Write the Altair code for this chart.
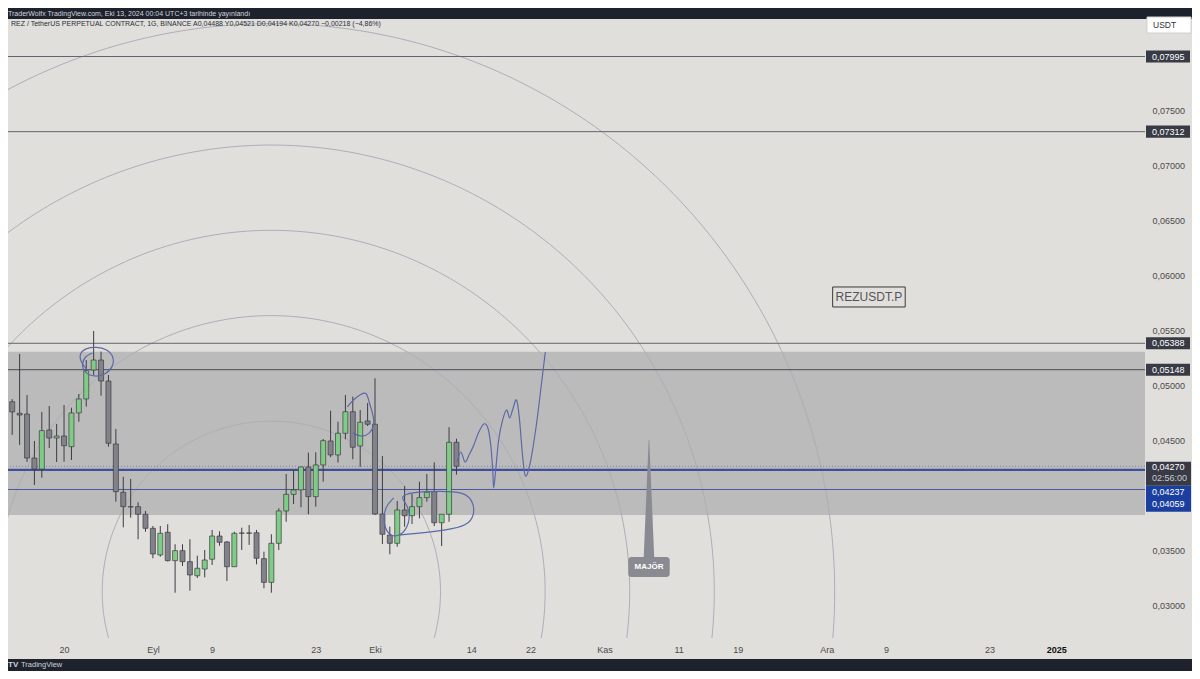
import altair as alt
import numpy as np
import pandas as pd

# ---------------- daily candles REZ/USDT.P ----------------
candle_start = "2024-08-13"
opens = [0.04857, 0.04752, 0.04745, 0.04345, 0.04245, 0.04600, 0.04527, 0.04545, 0.04448, 0.04755,
         0.04882, 0.05145, 0.05236, 0.05045, 0.04473, 0.04034, 0.03903, 0.03903, 0.03834, 0.03706,
         0.03464, 0.03670, 0.03412, 0.03503, 0.03403, 0.03275, 0.03336, 0.03425, 0.03636, 0.03582,
         0.03357, 0.03661, 0.03664, 0.03666, 0.03430, 0.03215, 0.03570, 0.03864, 0.04015, 0.04055,
         0.04264, 0.03994, 0.04282, 0.04500, 0.04373, 0.04570, 0.04766, 0.04455, 0.04682, 0.04652,
         0.03836, 0.03645, 0.03570, 0.03873, 0.03821, 0.03903, 0.03985, 0.04039, 0.03757, 0.03834,
         0.04488]
highs = [0.04880, 0.05291, 0.04918, 0.04500, 0.04764, 0.04818, 0.04655, 0.04827, 0.04803, 0.04927,
         0.05236, 0.05500, 0.05312, 0.05100, 0.04609, 0.04175, 0.04155, 0.03943, 0.03864, 0.03727,
         0.03727, 0.03743, 0.03561, 0.03561, 0.03606, 0.03457, 0.03509, 0.03691, 0.03679, 0.03590,
         0.03675, 0.03712, 0.03736, 0.03691, 0.03494, 0.03652, 0.03888, 0.04200, 0.04236, 0.04266,
         0.04394, 0.04397, 0.04518, 0.04775, 0.04675, 0.04918, 0.04903, 0.04782, 0.04845, 0.05070,
         0.04364, 0.03721, 0.03955, 0.04091, 0.04018, 0.04130, 0.04200, 0.04306, 0.03834, 0.04625,
         0.04521]
lows = [0.04555, 0.04464, 0.04309, 0.04100, 0.04166, 0.04436, 0.04309, 0.04312, 0.04327, 0.04675,
        0.04812, 0.05100, 0.04912, 0.04448, 0.03948, 0.03715, 0.03803, 0.03606, 0.03675, 0.03434,
        0.03448, 0.03405, 0.03121, 0.03364, 0.03139, 0.03255, 0.03261, 0.03373, 0.03548, 0.03227,
        0.03357, 0.03509, 0.03555, 0.03379, 0.03161, 0.03121, 0.03509, 0.03766, 0.03927, 0.03897,
        0.03834, 0.03903, 0.04130, 0.04352, 0.04303, 0.04515, 0.04334, 0.04266, 0.04636, 0.03827,
        0.03564, 0.03470, 0.03539, 0.03721, 0.03745, 0.03797, 0.03948, 0.03727, 0.03545, 0.03766,
        0.04194]
closes = [0.04764, 0.04736, 0.04345, 0.04245, 0.04594, 0.04527, 0.04545, 0.04457, 0.04755, 0.04882,
          0.05139, 0.05236, 0.05045, 0.04479, 0.04039, 0.03903, 0.03900, 0.03834, 0.03706, 0.03473,
          0.03661, 0.03412, 0.03503, 0.03403, 0.03282, 0.03343, 0.03418, 0.03636, 0.03579, 0.03357,
          0.03661, 0.03664, 0.03661, 0.03434, 0.03215, 0.03570, 0.03864, 0.04015, 0.04055, 0.04264,
          0.03994, 0.04282, 0.04503, 0.04373, 0.04570, 0.04766, 0.04443, 0.04670, 0.04652, 0.03836,
          0.03652, 0.03570, 0.03873, 0.03821, 0.03903, 0.03985, 0.04034, 0.03757, 0.03834, 0.04488,
          0.04270]

# horizontal levels
level_prices = [0.07995, 0.07312, 0.05388, 0.05148, 0.04237, 0.04059]
level_colors = ["#62656d", "#62656d", "#62656d", "#5f6168", "#3f4f98", "#4b5aa0"]
level_widths = [1, 1, 1, 1.3, 2.2, 1]
last_price = 0.04270
zone_top, zone_bottom = 0.05312, 0.03827

# fib circles (centre at the 17 Sep low)
fib_center = "2024-09-17"
fib_center_price = 0.0313
fib_levels = [0.236, 0.382, 0.5, 0.618, 0.786]
fib_r_days, fib_r_price = 96.8, 0.0657

# hand drawings: (days after candle_start, price)
draw_top_days = [10.15, 9.21, 9.08, 10.01, 11.35, 12.82, 13.76, 13.63, 12.56, 11.08, 9.75, 9.34, 9.88, 10.82]
draw_top_prices = [0.05145, 0.05218, 0.05300, 0.05345, 0.05355, 0.05336, 0.05264, 0.05173, 0.05100, 0.05082,
                   0.05118, 0.05200, 0.05273, 0.05300]
draw_mid_days = [45.25, 46.16, 47.10, 47.90, 48.10, 48.70, 48.97, 48.20, 47.00, 46.03]
draw_mid_prices = [0.04809, 0.04882, 0.04927, 0.04945, 0.04873, 0.04755, 0.04645, 0.04555, 0.04536, 0.04573]
draw_low_days = [51.51, 50.44, 50.04, 50.71, 52.05, 53.25, 53.79, 53.25, 52.32, 53.92, 57.94, 60.88, 62.22,
                 62.49, 61.42, 58.61, 55.26, 52.32]
draw_low_prices = [0.03982, 0.03909, 0.03782, 0.03645, 0.03627, 0.03691, 0.03818, 0.03936, 0.03991, 0.04036,
                   0.04045, 0.04036, 0.03964, 0.03827, 0.03727, 0.03691, 0.03664, 0.03645]
draw_path_days = [60.08, 60.60, 61.15, 61.70, 62.35, 63.02, 63.70, 64.25, 64.63, 64.90, 65.03, 65.30, 65.70,
                  66.24, 66.77, 67.18, 67.58, 68.11, 68.52, 68.92, 69.32, 69.99, 70.79, 71.46, 72.00]
draw_path_prices = [0.04309, 0.04400, 0.04309, 0.04373, 0.04464, 0.04582, 0.04655, 0.04618, 0.04464, 0.04236,
                    0.04073, 0.04236, 0.04509, 0.04691, 0.04782, 0.04709, 0.04782, 0.04873, 0.04691, 0.04373,
                    0.04182, 0.04309, 0.04645, 0.05009, 0.05309]

# annotations
major_date = "2024-11-07"
major_tip, major_base, major_label_p = 0.04509, 0.03445, 0.03355
rez_text, rez_date, rez_price = "REZUSDT.P", "2024-12-06T17:00:00", 0.05809

x_ticks = ["2024-08-20", "2024-09-01", "2024-09-09", "2024-09-23", "2024-10-01", "2024-10-14",
           "2024-10-22", "2024-11-01", "2024-11-11", "2024-11-19", "2024-12-01", "2024-12-09",
           "2024-12-23", "2025-01-01"]
y_ticks = [0.030, 0.035, 0.045, 0.050, 0.055, 0.060, 0.065, 0.070, 0.075]

tag_texts = ["0,07995", "0,07312", "0,05388", "0,05148"]
tag_prices = [0.07995, 0.07312, 0.05388, 0.05148]

header = "TraderWolfx TradingView.com, Eki 13, 2024 00:04 UTC+3 tarihinde yayınlandı"
legend = ("REZ / TetherUS PERPETUAL CONTRACT, 1G, BINANCE  A0,04488  Y0,04521  D0,04194  "
          "K0,04270  −0,00218 (−4,86%)")

# ---------------- helpers ----------------
T0 = pd.Timestamp(candle_start)
FONT = "Liberation Sans"
W, H = 1137, 619


def iso(ts):
    return pd.Timestamp(ts).strftime("%Y-%m-%dT%H:%M:%SZ")


def off(days):
    return iso(T0 + pd.Timedelta(days=days))


def dtobj(ts):
    t = pd.Timestamp(ts)
    return alt.DateTime(year=t.year, month=t.month, date=t.day, hours=t.hour,
                        minutes=t.minute, utc=True)


x_scale = alt.Scale(type="utc", domain=[dtobj(T0 + pd.Timedelta(hours=2, minutes=34)),
                                        dtobj(pd.Timestamp("2025-01-12 07:40"))], nice=False)
y_scale = alt.Scale(domain=[0.02709, 0.08336], nice=False, zero=False)

x_axis = alt.Axis(
    values=[dtobj(d) for d in x_ticks], title=None, grid=False, domain=False, ticks=False,
    labelExpr=("utcdate(datum.value) == 1 ? (utcmonth(datum.value) == 0 ? '' + utcyear(datum.value) : "
               "['Oca','Şub','Mar','Nis','May','Haz','Tem','Ağu','Eyl','Eki','Kas','Ara'][utcmonth(datum.value)])"
               " : '' + utcdate(datum.value)"),
    labelFont=FONT, labelFontSize=9, labelPadding=7, labelOverlap=False, labelFlush=False,
    labelColor={"condition": {"test": "utcmonth(datum.value) == 0", "value": "#111111"}, "value": "#4a4a4a"},
    labelFontWeight={"condition": {"test": "utcmonth(datum.value) == 0", "value": "bold"}, "value": "normal"},
    zindex=1)
y_axis = alt.Axis(
    orient="right", values=y_ticks, title=None, grid=False, domain=False, ticks=False,
    labelExpr="replace(format(datum.value, '.5f'), '.', ',')", labelFont=FONT, labelFontSize=9,
    labelColor="#4a4a4a", labelAlign="left", labelBaseline="middle", labelPadding=7,
    labelOverlap=False, labelFlush=False, zindex=1)


def X(f):
    return alt.X(f, type="temporal", scale=x_scale, axis=x_axis)


def Y(f):
    return alt.Y(f, type="quantitative", scale=y_scale, axis=y_axis)


one = pd.DataFrame({"a": [0]})

# ---------------- data frames ----------------
dates = pd.date_range(candle_start, periods=len(opens), freq="D")
cdf = pd.DataFrame({"date": [iso(d) for d in dates], "o": opens, "h": highs, "l": lows, "c": closes})
cdf["col"] = np.where(cdf["c"] >= cdf["o"], "#7fcc86", "#82828b")

theta = np.linspace(0, 2 * np.pi, 361)
arc_rows = []
for lv in fib_levels:
    for i, th in enumerate(theta):
        arc_rows.append({"lv": lv, "i": i,
                         "t": iso(pd.Timestamp(fib_center) + pd.Timedelta(days=lv * fib_r_days * np.cos(th))),
                         "p": fib_center_price + lv * fib_r_price * np.sin(th)})
arcs = pd.DataFrame(arc_rows)

lvl = pd.DataFrame({"p": level_prices, "col": level_colors, "w": level_widths})


def drawing(name, days, prices):
    return pd.DataFrame({"id": name, "i": range(len(days)), "t": [off(d) for d in days], "p": prices})


loops = pd.concat([drawing("top", draw_top_days, draw_top_prices),
                   drawing("mid", draw_mid_days, draw_mid_prices),
                   drawing("low", draw_low_days, draw_low_prices)])
path = drawing("path", draw_path_days, draw_path_prices)

md = pd.Timestamp(major_date)
tri = pd.DataFrame({"p": [major_tip, major_base],
                    "x1": [iso(md - pd.Timedelta(hours=1)), iso(md - pd.Timedelta(hours=17))],
                    "x2": [iso(md + pd.Timedelta(hours=1)), iso(md + pd.Timedelta(hours=17))]})
mbox = pd.DataFrame({"x1": [iso(md - pd.Timedelta(days=2.8))], "x2": [iso(md + pd.Timedelta(days=2.8))],
                     "p1": [major_base], "p2": [major_base - 0.00181], "t": [iso(md)], "pm": [major_label_p],
                     "txt": ["MAJÖR"]})
rd = pd.Timestamp(rez_date)
rbox = pd.DataFrame({"x1": [iso(rd - pd.Timedelta(days=4.9))], "x2": [iso(rd + pd.Timedelta(days=4.9))],
                     "p1": [rez_price + 0.00091], "p2": [rez_price - 0.00091], "t": [iso(rd)],
                     "pm": [rez_price], "txt": [rez_text]})

tags = pd.DataFrame({"txt": tag_texts, "p": tag_prices})
tags["p1"] = tags["p"] + 0.00055
tags["p2"] = tags["p"] - 0.00055
stack_boxes = pd.DataFrame({"p1": [0.04312, 0.04094], "p2": [0.04094, 0.03857], "col": ["#383b45", "#1b3fa0"]})
stack_txt = pd.DataFrame({"txt": ["0,04270", "02:56:00", "0,04237", "0,04059"],
                          "p": [0.04261, 0.04161, 0.04039, 0.03925],
                          "col": ["#ffffff", "#c9cbd1", "#ffffff", "#ffffff"]})

# ---------------- layers ----------------
bg = alt.Chart(one).mark_rect(color="#e1dfdc").encode(
    x=alt.value(0), x2=alt.value(1184), y=alt.value(0), y2=alt.value(640))

zone = alt.Chart(pd.DataFrame({"p1": [zone_top], "p2": [zone_bottom]})).mark_rect(
    color="#bcbbbb").encode(y=Y("p1"), y2="p2")

arc_layer = alt.Chart(arcs).mark_line(color="#acaeb8", strokeWidth=1, clip=True).encode(
    x=X("t"), y=Y("p"), detail="lv:N", order="i:Q")

hl = alt.Chart(lvl).mark_rule().encode(
    y=Y("p"), color=alt.Color("col:N", scale=None), strokeWidth=alt.StrokeWidth("w:Q", scale=None))

cur = alt.Chart(pd.DataFrame({"p": [last_price]})).mark_rule(
    color="#7d86ad", strokeDash=[1, 2], strokeWidth=1).encode(y=Y("p"))

wicks = alt.Chart(cdf).mark_rule(color="#3c3c40", strokeWidth=1, clip=True).encode(
    x=X("date"), y=Y("l"), y2="h")

bodies = alt.Chart(cdf).mark_bar(size=5, stroke="#3c3c40", strokeWidth=0.7, clip=True).encode(
    x=X("date"), y=Y("o"), y2="c", color=alt.Color("col:N", scale=None))

loop_layer = alt.Chart(loops).mark_line(color="#5b69a8", strokeWidth=1.2, interpolate="basis",
                                        clip=True).encode(x=X("t"), y=Y("p"), detail="id:N", order="i:Q")
path_layer = alt.Chart(path).mark_line(color="#5b69a8", strokeWidth=1.2, interpolate="cardinal",
                                       clip=True).encode(x=X("t"), y=Y("p"), order="i:Q")

tri_layer = alt.Chart(tri).mark_area(orient="horizontal", color="#8a8b92").encode(
    y=Y("p"), x=X("x1"), x2="x2")
mbox_layer = alt.Chart(mbox).mark_rect(color="#8a8b92", cornerRadius=3).encode(
    x=X("x1"), x2="x2", y=Y("p1"), y2="p2")
mtxt = alt.Chart(mbox).mark_text(color="white", fontWeight="bold", fontSize=8, font=FONT).encode(
    x=X("t"), y=Y("pm"), text="txt:N")

rbox_layer = alt.Chart(rbox).mark_rect(fill="#e1dfdc", stroke="#3a3a3a", strokeWidth=1).encode(
    x=X("x1"), x2="x2", y=Y("p1"), y2="p2")
rtxt = alt.Chart(rbox).mark_text(color="#555555", fontSize=12, font=FONT).encode(
    x=X("t"), y=Y("pm"), text="txt:N")

tag_box = alt.Chart(tags).mark_rect(color="#383b45").encode(
    x=alt.value(1138), x2=alt.value(1182), y=Y("p1"), y2="p2")
tag_txt = alt.Chart(tags).mark_text(color="white", fontSize=9, font=FONT, align="left",
                                    baseline="middle").encode(x=alt.value(1144), y=Y("p"), text="txt:N")
stk_box = alt.Chart(stack_boxes).mark_rect().encode(
    x=alt.value(1138), x2=alt.value(1183), y=Y("p1"), y2="p2", color=alt.Color("col:N", scale=None))
stk_txt = alt.Chart(stack_txt).mark_text(fontSize=9, font=FONT, align="left", baseline="middle").encode(
    x=alt.value(1144), y=Y("p"), text="txt:N", color=alt.Color("col:N", scale=None))

usdt_box = alt.Chart(one).mark_rect(fill="white", stroke="#d0d0d0", strokeWidth=1).encode(
    x=alt.value(1139), x2=alt.value(1183), y=alt.value(-2), y2=alt.value(14))
usdt_txt = alt.Chart(pd.DataFrame({"txt": ["USDT"]})).mark_text(
    color="#333333", fontSize=8.5, font=FONT, align="left", baseline="middle").encode(
    x=alt.value(1145), y=alt.value(6), text="txt:N")

head = alt.Chart(pd.DataFrame({"txt": [header]})).mark_text(
    color="#d1d4dc", fontSize=7, font=FONT, align="left", baseline="middle").encode(
    x=alt.value(0), y=alt.value(-5.5), text="txt:N")
leg = alt.Chart(pd.DataFrame({"txt": [legend]})).mark_text(
    color="#2a2e39", fontSize=7, font=FONT, align="left", baseline="middle").encode(
    x=alt.value(3), y=alt.value(5), text="txt:N")
logo_mark = alt.Chart(pd.DataFrame({"txt": ["TV"]})).mark_text(
    color="#d1d4dc", fontSize=8, font=FONT, fontWeight="bold", align="left", baseline="middle").encode(
    x=alt.value(0), y=alt.value(646), text="txt:N")
logo_txt = alt.Chart(pd.DataFrame({"txt": ["TradingView"]})).mark_text(
    color="#d1d4dc", fontSize=7.5, font=FONT, align="left", baseline="middle").encode(
    x=alt.value(13), y=alt.value(646), text="txt:N")

chart = alt.layer(
    bg, zone, arc_layer, hl, cur, wicks, bodies, loop_layer, path_layer,
    tri_layer, mbox_layer, mtxt, rbox_layer, rtxt,
    tag_box, tag_txt, stk_box, stk_txt, usdt_box, usdt_txt, head, leg, logo_mark, logo_txt
).properties(
    width=W, height=H,
    padding={"left": 0, "top": 11, "right": 47, "bottom": 33},
    autosize=alt.AutoSizeParams(type="none"),
    background="#1e222d",
).configure_view(stroke=None)

chart.save("out.html", embed_options={"renderer": "svg", "actions": False})
